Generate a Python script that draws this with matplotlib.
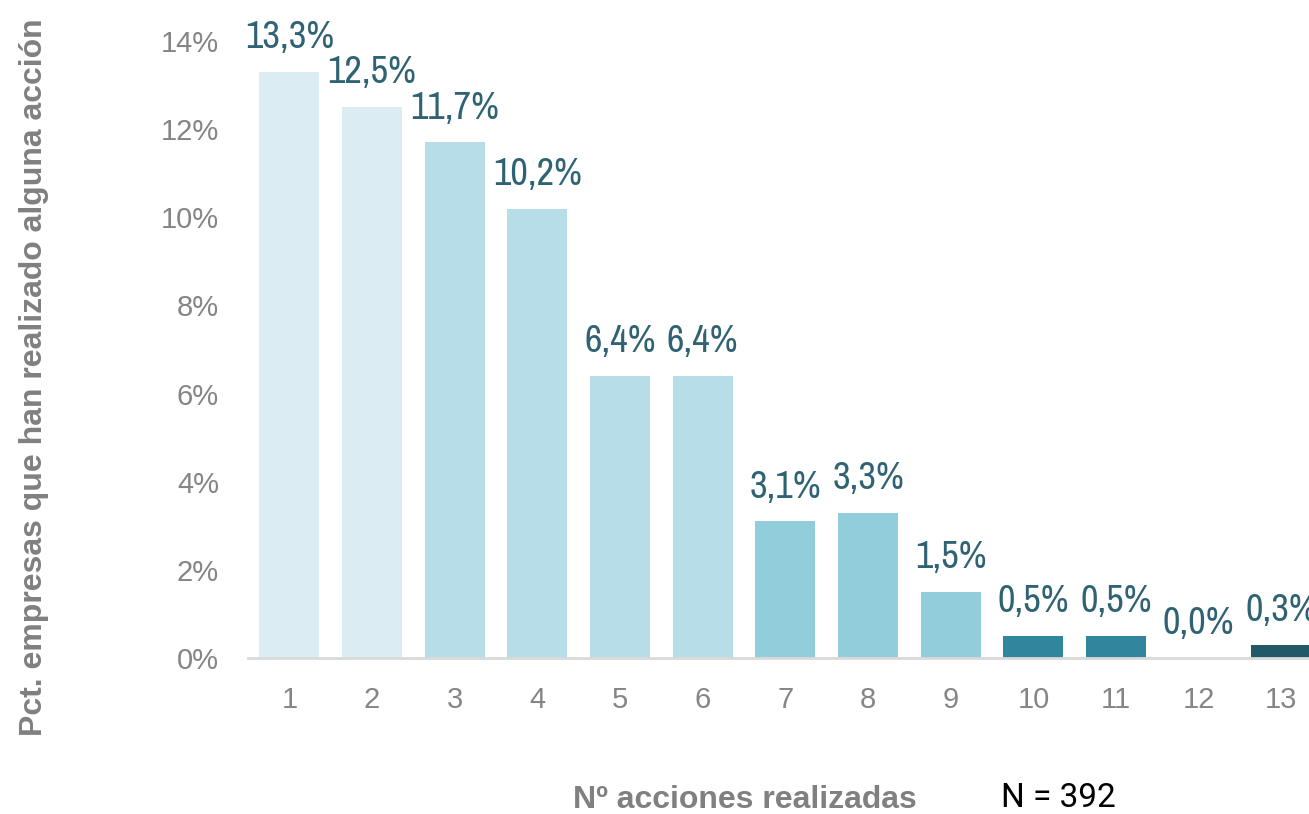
import matplotlib.pyplot as plt
from matplotlib import font_manager

categories = ['1', '2', '3', '4', '5', '6', '7', '8', '9', '10', '11', '12', '13']
values = [13.3, 12.5, 11.7, 10.2, 6.4, 6.4, 3.1, 3.3, 1.5, 0.5, 0.5, 0.0, 0.3]
labels = ['13,3%', '12,5%', '11,7%', '10,2%', '6,4%', '6,4%', '3,1%', '3,3%',
          '1,5%', '0,5%', '0,5%', '0,0%', '0,3%']
colors = ['#dbedf3', '#dbedf3', '#b7dde8', '#b7dde8', '#b7dde8', '#b7dde8',
          '#92cddc', '#92cddc', '#92cddc', '#31859c', '#31859c', '#31859c', '#215968']
yticks = [0, 2, 4, 6, 8, 10, 12, 14]

# busca una fuente estrecha para las etiquetas, si hay alguna
label_prop = font_manager.FontProperties(family='DejaVu Sans', size=24)
cands = [f for f in font_manager.fontManager.ttflist
         if f.weight in (400, 'normal', 'regular') and f.style == 'normal'
         and (f.stretch in ('condensed', 'semi-condensed', 'extra-condensed')
              or 'Condensed' in f.name or 'Narrow' in f.name)]
cands.sort(key=lambda f: ('Noto' not in f.name, 'DejaVu' in f.name, f.name))
if cands:
    label_prop = font_manager.FontProperties(fname=cands[0].fname, size=27.5)

fig = plt.figure(figsize=(13.09, 8.14), dpi=100)
ax = fig.add_axes([0.1895, 0.1916, 0.8210, 0.7580])

x = list(range(1, len(values) + 1))
ax.bar(x, values, width=0.725, color=colors)

for xi, v, lab in zip(x, values, labels):
    ax.annotate(lab, (xi, v), xytext=(0, 12), textcoords='offset points',
                ha='center', va='bottom', color='#2f6374', fontproperties=label_prop)

ax.set_xlim(0.5, 13.5)
ax.set_ylim(0, 14)
ax.set_xticks(x)
ax.set_xticklabels(categories)
ax.set_yticks(yticks)
ax.set_yticklabels([f'{t}%' for t in yticks])
ax.tick_params(axis='both', length=0, labelsize=21, labelcolor='#858585')
ax.tick_params(axis='x', pad=20)
ax.tick_params(axis='y', pad=21)
for lab in ax.get_xticklabels() + ax.get_yticklabels():
    lab.set_family('Liberation Sans')

for s in ['top', 'right', 'left']:
    ax.spines[s].set_visible(False)
ax.spines['bottom'].set_color('#d9d9d9')
ax.spines['bottom'].set_linewidth(2)

fig.text(0.026, 0.537, 'Pct. empresas que han realizado alguna acción', rotation=90,
         ha='center', va='center', fontsize=23, fontweight='bold', color='#808080',
         family='Liberation Sans')
fig.text(0.569, 0.0074, 'Nº acciones realizadas', ha='center', va='baseline',
         fontsize=23, fontweight='bold', color='#808080', family='Liberation Sans')
fig.text(0.7645, 0.008, 'N = 392', ha='left', va='baseline', fontsize=24,
         color='#000000', family='Roboto')

fig.savefig('out.png', dpi=100)
